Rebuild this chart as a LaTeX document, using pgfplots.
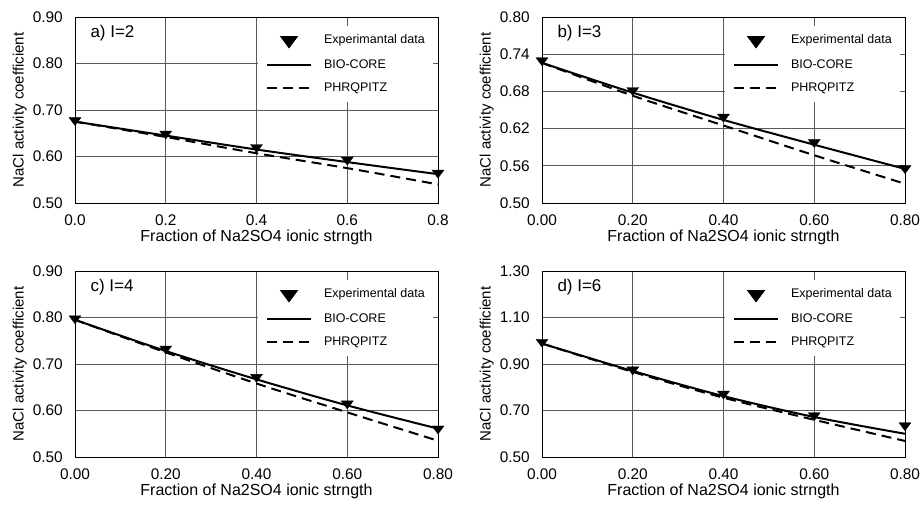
\documentclass[border=0pt]{standalone}
\usepackage{pgfplots}
\pgfplotsset{compat=1.18}
\usepackage{fontspec}
\setmainfont{Liberation Sans}

\tikzset{panellabel/.style={anchor=west, font=\fontsize{17}{20}\selectfont}}

\pgfplotsset{
  panel/.style={
    scale only axis, width=363pt, height=186pt,
    xmin=0, xmax=0.8,
    xtick={0,0.2,0.4,0.6,0.8},
    grid=major, grid style={black!65, line width=0.8pt},
    axis line style={line width=0.9pt},
    major tick length=0pt,
    clip=false,
    tick label style={font=\fontsize{15.4}{18}\selectfont, inner sep=0pt},
    yticklabel style={xshift=-12pt},
    xticklabel style={yshift=-12pt},
    xlabel={Fraction of Na2SO4 ionic strngth},
    ylabel={NaCl activity coefficient},
    xlabel style={font=\fontsize{16}{18}\selectfont, at={(axis description cs:0.5,-0.183)}, anchor=center},
    ylabel style={font=\fontsize{15}{18}\selectfont, at={(axis description cs:-0.152,0.5)}, anchor=center},
    legend style={at={(rel axis cs:1,1)}, anchor=north east, xshift=-5pt, yshift=-9pt,
      draw=none, fill=white, inner sep=8pt, row sep=11pt,
      font=\fontsize{12.5}{14}\selectfont,
      nodes={inner sep=0pt, text height=9.5pt, text depth=2.5pt},
      /tikz/every odd column/.append style={column sep=12pt}},
    legend cell align=left,
    legend image code/.code={\draw[mark repeat=2,mark phase=2,#1] plot coordinates {(0pt,0pt) (22pt,0pt) (44pt,0pt)};},
  },
  expdata/.style={only marks, mark=triangle*, mark size=6.9pt, black,
    mark options={rotate=180, yscale=0.77}},
  explegend/.style={only marks, mark=triangle*, mark size=10.2pt, black,
    mark options={rotate=180, yscale=0.78}},
  bio/.style={black, line width=2pt, smooth},
  phr/.style={black, line width=2pt, smooth, dash pattern=on 10pt off 6pt},
}

\begin{document}
\begin{tikzpicture}
\path[use as bounding box] (0,0) rectangle (923pt,-508pt);

% a) I=2
\begin{axis}[panel, at={(75pt,-17pt)}, anchor=north west,
  ymin=0.5, ymax=0.9, ytick={0.5,0.6,0.7,0.8,0.9},
  yticklabels={0.50,0.60,0.70,0.80,0.90},
  xticklabels={0.0,0.2,0.4,0.6,0.8}]
  \addlegendimage{explegend}
  \addlegendentry{Experimantal data}
  \addplot[expdata, forget plot] coordinates {(0,0.678) (0.2,0.649) (0.4,0.620) (0.6,0.593) (0.8,0.565)};
  \addplot[bio] coordinates {(0,0.675) (0.2,0.645) (0.4,0.615) (0.6,0.588) (0.8,0.562)};
  \addlegendentry{BIO-CORE}
  \addplot[phr] coordinates {(0,0.675) (0.2,0.642) (0.4,0.607) (0.6,0.575) (0.8,0.540)};
  \addlegendentry{PHRQPITZ}
  \node[panellabel] at (rel axis cs:0.033,0.914) {a) I=2};
\end{axis}

% b) I=3
\begin{axis}[panel, at={(542pt,-17pt)}, anchor=north west,
  ymin=0.5, ymax=0.8, ytick={0.5,0.56,0.62,0.68,0.74,0.8},
  yticklabels={0.50,0.56,0.62,0.68,0.74,0.80},
  xticklabels={0.00,0.20,0.40,0.60,0.80}]
  \addlegendimage{explegend}
  \addlegendentry{Experimental data}
  \addplot[expdata, forget plot] coordinates {(0,0.730) (0.2,0.682) (0.4,0.639) (0.6,0.598) (0.8,0.556)};
  \addplot[bio] coordinates {(0,0.726) (0.2,0.678) (0.4,0.634) (0.6,0.594) (0.8,0.555)};
  \addlegendentry{BIO-CORE}
  \addplot[phr] coordinates {(0,0.726) (0.2,0.673) (0.4,0.625) (0.6,0.577) (0.8,0.531)};
  \addlegendentry{PHRQPITZ}
  \node[panellabel] at (rel axis cs:0.033,0.914) {b) I=3};
\end{axis}

% c) I=4
\begin{axis}[panel, at={(75pt,-271pt)}, anchor=north west,
  ymin=0.5, ymax=0.9, ytick={0.5,0.6,0.7,0.8,0.9},
  yticklabels={0.50,0.60,0.70,0.80,0.90},
  xticklabels={0.00,0.20,0.40,0.60,0.80}]
  \addlegendimage{explegend}
  \addlegendentry{Experimental data}
  \addplot[expdata, forget plot] coordinates {(0,0.798) (0.2,0.733) (0.4,0.672) (0.6,0.615) (0.8,0.561)};
  \addplot[bio] coordinates {(0,0.795) (0.2,0.728) (0.4,0.667) (0.6,0.611) (0.8,0.561)};
  \addlegendentry{BIO-CORE}
  \addplot[phr] coordinates {(0,0.795) (0.2,0.725) (0.4,0.658) (0.6,0.596) (0.8,0.535)};
  \addlegendentry{PHRQPITZ}
  \node[panellabel] at (rel axis cs:0.033,0.914) {c) I=4};
\end{axis}

% d) I=6
\begin{axis}[panel, at={(542pt,-271pt)}, anchor=north west,
  ymin=0.5, ymax=1.3, ytick={0.5,0.7,0.9,1.1,1.3},
  yticklabels={0.50,0.70,0.90,1.10,1.30},
  xticklabels={0.00,0.20,0.40,0.60,0.80}]
  \addlegendimage{explegend}
  \addlegendentry{Experimental data}
  \addplot[expdata, forget plot] coordinates {(0,0.995) (0.2,0.876) (0.4,0.772) (0.6,0.679) (0.8,0.636)};
  \addplot[bio] coordinates {(0,0.988) (0.2,0.870) (0.4,0.762) (0.6,0.672) (0.8,0.600)};
  \addlegendentry{BIO-CORE}
  \addplot[phr] coordinates {(0,0.988) (0.2,0.866) (0.4,0.755) (0.6,0.660) (0.8,0.569)};
  \addlegendentry{PHRQPITZ}
  \node[panellabel] at (rel axis cs:0.033,0.914) {d) I=6};
\end{axis}
\end{tikzpicture}
\end{document}
